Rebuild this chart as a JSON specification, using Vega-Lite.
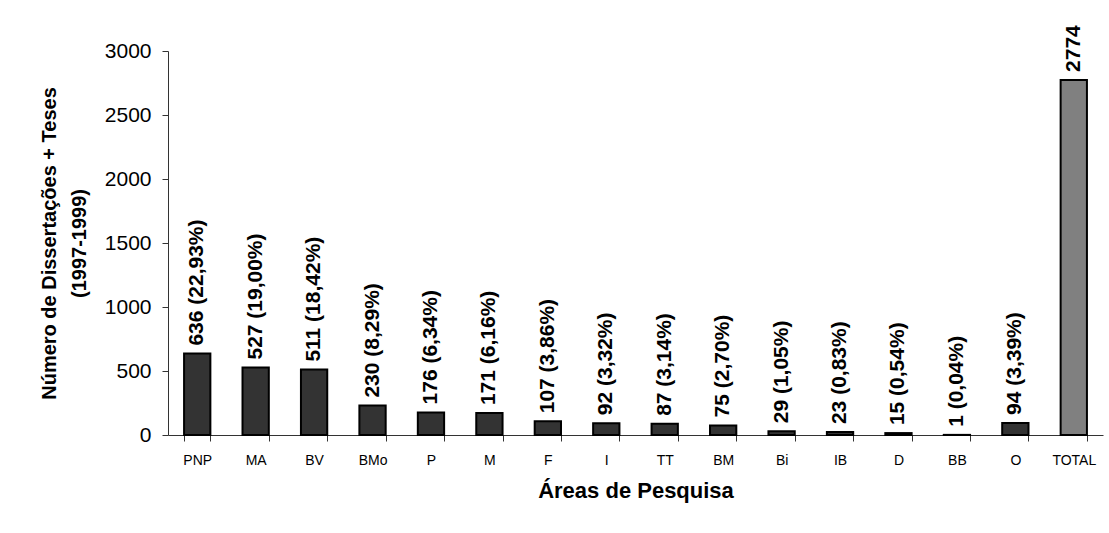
{
  "$schema": "https://vega.github.io/schema/vega-lite/v6.json",
  "autosize": "none",
  "width": 935,
  "height": 384,
  "padding": {"left": 168, "top": 51, "right": 6, "bottom": 98},
  "background": "white",
  "config": {
    "font": "Liberation Sans",
    "view": {"stroke": null}
  },
  "data": {
    "values": [
      {"area": "PNP", "n": 636, "label": "636 (22,93%)", "grupo": "area"},
      {"area": "MA", "n": 527, "label": "527 (19,00%)", "grupo": "area"},
      {"area": "BV", "n": 511, "label": "511 (18,42%)", "grupo": "area"},
      {"area": "BMo", "n": 230, "label": "230 (8,29%)", "grupo": "area"},
      {"area": "P", "n": 176, "label": "176 (6,34%)", "grupo": "area"},
      {"area": "M", "n": 171, "label": "171 (6,16%)", "grupo": "area"},
      {"area": "F", "n": 107, "label": "107 (3,86%)", "grupo": "area"},
      {"area": "I", "n": 92, "label": "92 (3,32%)", "grupo": "area"},
      {"area": "TT", "n": 87, "label": "87 (3,14%)", "grupo": "area"},
      {"area": "BM", "n": 75, "label": "75 (2,70%)", "grupo": "area"},
      {"area": "Bi", "n": 29, "label": "29 (1,05%)", "grupo": "area"},
      {"area": "IB", "n": 23, "label": "23 (0,83%)", "grupo": "area"},
      {"area": "D", "n": 15, "label": "15 (0,54%)", "grupo": "area"},
      {"area": "BB", "n": 1, "label": "1 (0,04%)", "grupo": "area"},
      {"area": "O", "n": 94, "label": "94 (3,39%)", "grupo": "area"},
      {"area": "TOTAL", "n": 2774, "label": "2774", "grupo": "total"}
    ]
  },
  "encoding": {
    "x": {
      "field": "area",
      "type": "nominal",
      "sort": null,
      "scale": {"paddingInner": 0.55, "paddingOuter": 0.275},
      "axis": {
        "title": "Áreas de Pesquisa",
        "titleFont": "Liberation Sans",
        "titleFontSize": 22,
        "titleFontWeight": "bold",
        "titleColor": "black",
        "titlePadding": 13,
        "labelAngle": 0,
        "labelFontSize": 14,
        "labelColor": "black",
        "labelPadding": 12,
        "tickBand": "extent",
        "tickSize": 6,
        "tickColor": "#333333",
        "domainColor": "#333333",
        "labelFont": "Liberation Sans"
      }
    },
    "y": {
      "field": "n",
      "type": "quantitative",
      "scale": {"domain": [0, 3000]},
      "axis": {
        "title": ["Número de Dissertações + Teses", "(1997-1999)"],
        "titleFont": "Liberation Sans",
        "titleFontSize": 20,
        "titleFontWeight": "bold",
        "titleColor": "black",
        "titleLineHeight": 30,
        "titlePadding": 15,
        "values": [0, 500, 1000, 1500, 2000, 2500, 3000],
        "format": "d",
        "grid": false,
        "labelFontSize": 21,
        "labelColor": "black",
        "labelPadding": 11,
        "tickSize": 6,
        "tickColor": "#333333",
        "domainColor": "#333333",
        "labelFont": "Liberation Sans"
      }
    }
  },
  "layer": [
    {
      "mark": {"type": "bar", "stroke": "black", "strokeWidth": 2},
      "encoding": {
        "color": {
          "field": "grupo",
          "type": "nominal",
          "scale": {"domain": ["area", "total"], "range": ["#333333", "#808080"]},
          "legend": null
        }
      }
    },
    {
      "mark": {
        "type": "text",
        "angle": 270,
        "align": "left",
        "baseline": "middle",
        "dx": 8,
        "fontSize": 21,
        "fontWeight": "bold",
        "color": "black",
        "font": "Liberation Sans"
      },
      "encoding": {"text": {"field": "label"}}
    }
  ]
}
